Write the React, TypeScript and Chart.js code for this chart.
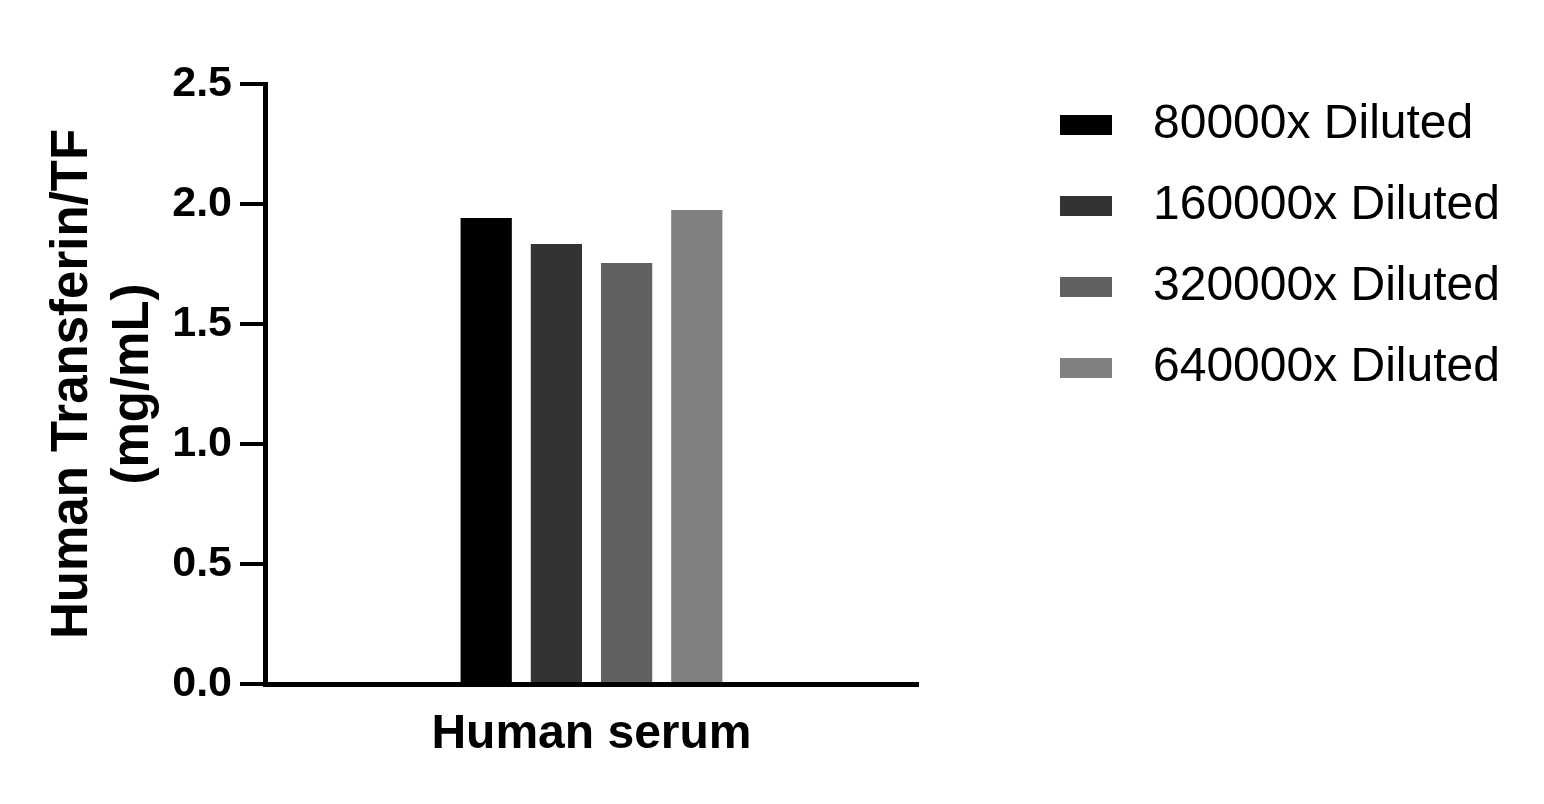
import React, { useEffect, useRef } from 'react';
import { Chart, registerables } from 'chart.js';

Chart.register(...registerables);

const categories = ['Human serum'];
const seriesLabels = ['80000x Diluted', '160000x Diluted', '320000x Diluted', '640000x Diluted'];
const seriesValues = [[1.942], [1.833], [1.754], [1.975]];
const seriesColors = ['#000000', '#333333', '#606060', '#808080'];
const yTickMin = 0;
const yTickMax = 2.5;
const yTickStep = 0.5;
const yTitle = ['Human Transferin/TF', '(mg/mL)'];

const FONT = '"Liberation Sans", Arial, Helvetica, sans-serif';

const legendPlugin = {
  id: 'customLegend',
  afterDraw(chart: any) {
    const ctx = chart.ctx;
    ctx.save();
    chart.data.datasets.forEach((ds: any, i: number) => {
      const cy = 125 + i * 81;
      ctx.fillStyle = ds.backgroundColor;
      ctx.fillRect(1060, cy - 10, 52, 20);
      ctx.fillStyle = '#000';
      ctx.font = `48px ${FONT}`;
      ctx.textBaseline = 'middle';
      ctx.textAlign = 'left';
      ctx.fillText(ds.label, 1153, cy);
    });
    ctx.restore();
  },
};

export default function App() {
  const ref = useRef<HTMLCanvasElement | null>(null);
  useEffect(() => {
    document.body.style.margin = '0';
    const canvas = ref.current;
    if (!canvas) return;
    const chart = new Chart(canvas, {
      type: 'bar',
      data: {
        labels: categories,
        datasets: seriesLabels.map((label, i) => ({
          label,
          data: seriesValues[i],
          backgroundColor: seriesColors[i],
          borderWidth: 0,
          categoryPercentage: 0.43,
          barPercentage: 0.73,
        })),
      },
      options: {
        responsive: false,
        animation: false,
        layout: { padding: { top: 84, right: 626, left: 0, bottom: 0 } },
        plugins: {
          legend: { display: false },
          tooltip: { enabled: false },
        },
        scales: {
          x: {
            grid: { display: false },
            border: { display: true, color: '#000', width: 5 },
            ticks: {
              color: '#000',
              font: { family: FONT, size: 48, weight: 'bold' },
              padding: 14,
            },
            afterFit: (scale: any) => {
              scale.height = 120;
            },
          },
          y: {
            min: yTickMin,
            max: yTickMax,
            grid: {
              display: true,
              drawOnChartArea: false,
              drawTicks: true,
              tickLength: 25,
              lineWidth: 4,
              color: '#000',
            },
            border: { display: true, color: '#000', width: 5 },
            ticks: {
              stepSize: yTickStep,
              color: '#000',
              padding: 8,
              font: { family: FONT, size: 43, weight: 'bold' },
              callback: (v: any) => Number(v).toFixed(1),
            },
            title: {
              display: true,
              text: yTitle,
              color: '#000',
              font: { family: FONT, size: 51, weight: 'bold', lineHeight: 1.2 },
              padding: { top: 42, bottom: 0 },
            },
            afterFit: (scale: any) => {
              scale.width = 265;
            },
          },
        },
      },
      plugins: [legendPlugin],
    });
    return () => chart.destroy();
  }, []);
  return (
    <div style={{ width: 1544, height: 804, background: '#fff' }}>
      <canvas ref={ref} width={1544} height={804} style={{ display: 'block' }} />
    </div>
  );
}
